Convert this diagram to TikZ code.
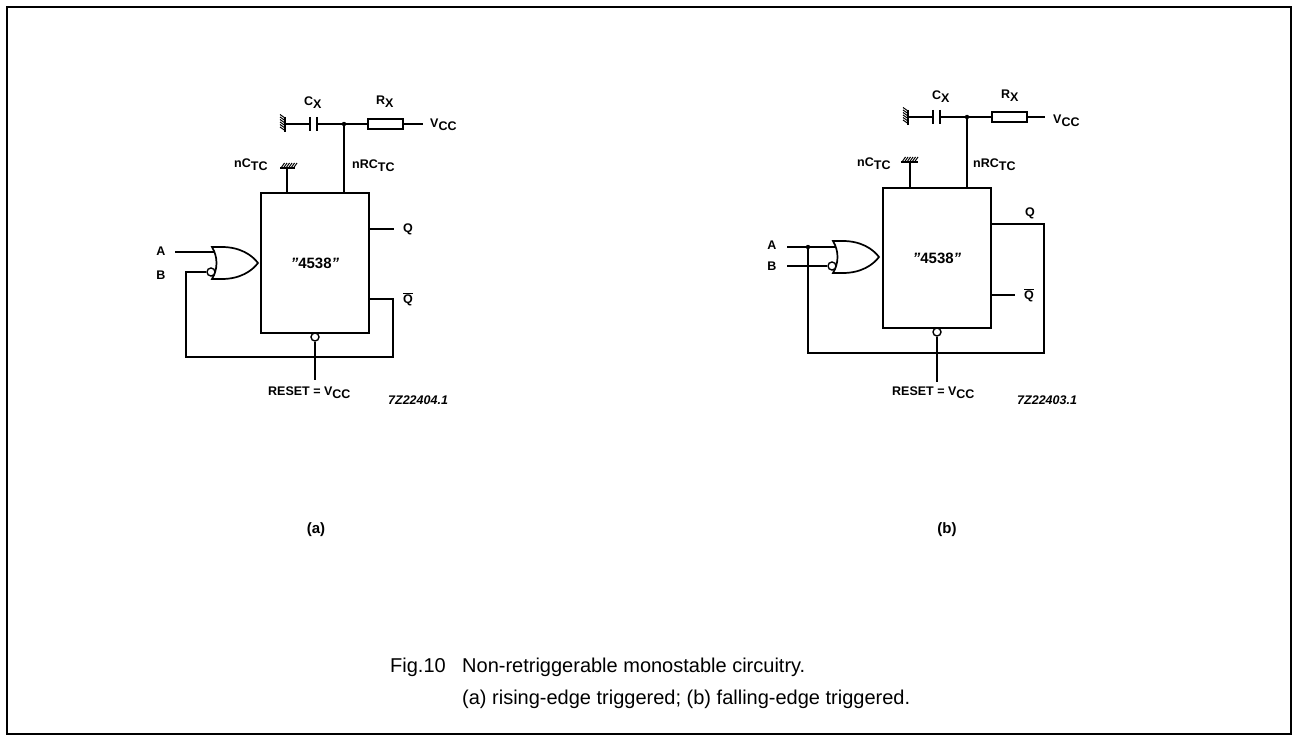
\documentclass[tikz,border=0pt]{standalone}
\usepackage{fontspec}
\setmainfont{Liberation Sans}
\newcommand\lowr[1]{\raisebox{-0.45ex}{#1}}
\begin{document}
\begin{tikzpicture}[x=1pt,y=-1pt,
  wire/.style={line width=1.4pt},
  icbox/.style={draw,line width=1.8pt,minimum width=108pt,minimum height=140pt,inner sep=0pt},
  res/.style={draw,line width=1.4pt,minimum width=35pt,minimum height=10pt,inner sep=0pt,fill=white},
  bubble/.style={draw,circle,line width=1.4pt,minimum size=8pt,inner sep=0pt,fill=white},
  lbl/.style={font=\bfseries\fontsize{12.5}{13}\selectfont,inner sep=0pt},
  code/.style={font=\bfseries\itshape\fontsize{12.5}{13}\selectfont,inner sep=0pt},
  chip/.style={font=\bfseries\fontsize{15}{15}\selectfont,inner sep=0pt},
  sublbl/.style={font=\bfseries\fontsize{15}{15}\selectfont,inner sep=0pt},
  captxt/.style={font=\fontsize{20}{21}\selectfont,inner sep=0pt,anchor=base west},
  orgate/.pic={
    \draw[line width=1.7pt,fill=white] (0,-16) -- (10,-16) .. controls (28,-16) and (40,-8) .. (46,0)
      .. controls (40,8) and (28,16) .. (10,16) -- (0,16) .. controls (6,6) and (6,-6) .. (0,-16) -- cycle;
  }
]
\useasboundingbox (0,0) rectangle (1293,735);
\draw[line width=1.6pt] (7,7) rectangle (1291,734);

% ================= (a) =================
\node[icbox] (ica) at (315,263) {};
\node[chip] (tA) at (ica.center) {\textit{''}4538\textit{''}};
% top network
\coordinate (gca) at (285,124);
\coordinate (cpa1) at (310,124);
\coordinate (cpa2) at (317,124);
\coordinate (jna) at (344,124);
\node[res] (rxa) at (385.5,124) {};
\coordinate (vca) at (423,124);
\draw[line width=2pt] (285,117) -- (285,132);
\foreach \yy in {118,120.5,123,125.5,128,130.5} \draw[line width=1pt] (285,\yy) -- (280,\yy-3.5);
\draw[wire] (gca) -- (cpa1);
\draw[line width=2.6pt] (310,117) -- (310,131);
\draw[line width=2.6pt] (317,117) -- (317,131);
\draw[wire] (cpa2) -- (rxa.west);
\draw[wire] (rxa.east) -- (vca);
\fill (jna) circle (2.2);
\draw[wire] (jna) -- (jna |- ica.north);
% nCtc ground
\coordinate (gta) at (287,168);
\draw[line width=2pt] (280,168) -- (295,168);
\foreach \xx in {281,283.5,286,288.5,291,293.5} \draw[line width=1pt] (\xx,168) -- (\xx+3.5,163);
\draw[wire] (gta) -- (gta |- ica.north);
\node[lbl,anchor=west] (lcxa) at (304,103) {C\lowr{X}};
\node[lbl,anchor=west] (lrxa) at (376,102) {R\lowr{X}};
\node[lbl,anchor=west] (lvca) at (430,125) {V\lowr{CC}};
\node[lbl,anchor=west] (lnca) at (234,165) {nC\lowr{TC}};
\node[lbl,anchor=west] (lnra) at (352,166) {nRC\lowr{TC}};
% outputs
\coordinate (qa) at (369,229);
\coordinate (qae) at (394,229);
\draw[wire] (qa) -- (qae);
\node[lbl] (lqa) at (408,229) {Q};
\coordinate (qba) at (369,299);
\node[lbl] (lqba) at (408,299) {$\overline{\mbox{\bfseries Q}}$};
% gate
\pic at (212,263) {orgate};
\coordinate (ina) at (175,252);
\coordinate (gina) at (215,252);
\draw[wire] (ina) -- (gina);
\node[bubble] (bba) at (211,272) {};
\node[lbl] (laa) at (161,251) {A};
\node[lbl] (lba) at (161,275) {B};
% feedback loop
\coordinate (lpa1) at (186,357);
\coordinate (lpa2) at (393,299);
\draw[wire] (bba.west) -| (lpa1) -| (lpa2) -- (qba);
% reset
\node[bubble] (rsa) at (315,337) {};
\coordinate (rsea) at (315,380);
\draw[wire] (rsa.south) -- (rsea);
\node[lbl,anchor=west] (lrsa) at (268,393) {RESET = V\lowr{CC}};
\node[code,anchor=west] (cda) at (388,400) {7Z22404.1};
\node[sublbl] (capa) at (316,530) {(a)};

% ================= (b) =================
\node[icbox] (icb) at (937,258) {};
\node[chip] (tB) at (icb.center) {\textit{''}4538\textit{''}};
\coordinate (gcb) at (908,117);
\coordinate (cpb1) at (933,117);
\coordinate (cpb2) at (940,117);
\coordinate (jnb) at (967,117);
\node[res] (rxb) at (1009.5,117) {};
\coordinate (vcb) at (1045,117);
\draw[line width=2pt] (908,110) -- (908,125);
\foreach \yy in {111,113.5,116,118.5,121,123.5} \draw[line width=1pt] (908,\yy) -- (903,\yy-3.5);
\draw[wire] (gcb) -- (cpb1);
\draw[line width=2.6pt] (933,110) -- (933,124);
\draw[line width=2.6pt] (940,110) -- (940,124);
\draw[wire] (cpb2) -- (rxb.west);
\draw[wire] (rxb.east) -- (vcb);
\fill (jnb) circle (2.2);
\draw[wire] (jnb) -- (jnb |- icb.north);
\coordinate (gtb) at (910,162);
\draw[line width=2pt] (901,162) -- (918,162);
\foreach \xx in {902,904.5,907,909.5,912,914.5} \draw[line width=1pt] (\xx,162) -- (\xx+3.5,157);
\draw[wire] (gtb) -- (gtb |- icb.north);
\node[lbl,anchor=west] (lcxb) at (932,97) {C\lowr{X}};
\node[lbl,anchor=west] (lrxb) at (1001,96) {R\lowr{X}};
\node[lbl,anchor=west] (lvcb) at (1053,121) {V\lowr{CC}};
\node[lbl,anchor=west] (lncb) at (857,164) {nC\lowr{TC}};
\node[lbl,anchor=west] (lnrb) at (973,165) {nRC\lowr{TC}};
% outputs
\coordinate (qb) at (991,224);
\coordinate (qbe) at (1044,353);
\node[lbl] (lqb) at (1030,213) {Q};
\coordinate (qbb) at (991,295);
\coordinate (qbbe) at (1015,295);
\draw[wire] (qbb) -- (qbbe);
\node[lbl] (lqbb) at (1029,295) {$\overline{\mbox{\bfseries Q}}$};
% gate
\pic at (833,257) {orgate};
\coordinate (inb) at (787,247);
\coordinate (ginb) at (836,247);
\coordinate (jab) at (808,247);
\draw[wire] (inb) -- (ginb);
\fill (jab) circle (2.2);
\node[bubble] (bbb) at (832,266) {};
\coordinate (inbb) at (787,266);
\draw[wire] (inbb) -- (bbb.west);
\node[lbl] (lab) at (772,245) {A};
\node[lbl] (lbb) at (772,266) {B};
% loop
\draw[wire] (qb) -| (qbe) -| (jab);
% reset
\node[bubble] (rsb) at (937,332) {};
\coordinate (rseb) at (937,382);
\draw[wire] (rsb.south) -- (rseb);
\node[lbl,anchor=west] (lrsb) at (892,393) {RESET = V\lowr{CC}};
\node[code,anchor=west] (cdb) at (1017,400) {7Z22403.1};
\node[sublbl] (capb) at (947,530) {(b)};

% ================= caption =================
\node[captxt] (fig) at (390,672) {Fig.10};
\node[captxt] (c1) at (462,672) {Non-retriggerable monostable circuitry.};
\node[captxt] (c2) at (462,704) {(a) rising-edge triggered; (b) falling-edge triggered.};
\end{tikzpicture}
\end{document}
